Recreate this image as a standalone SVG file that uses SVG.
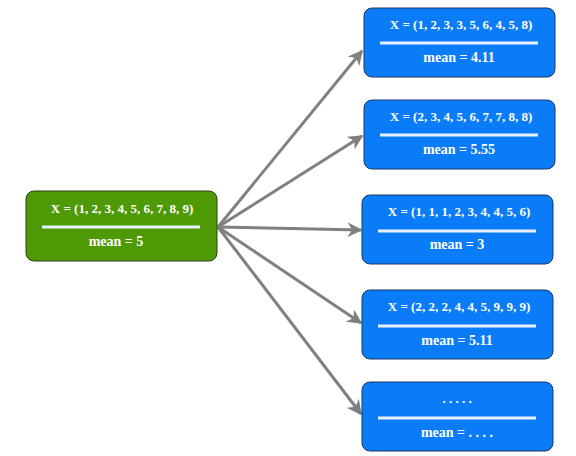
<svg xmlns="http://www.w3.org/2000/svg" width="576" height="456" viewBox="0 0 576 456">
<style>
.g{fill:#4e9a06;stroke:#2e3b1e;stroke-width:1}
.b{fill:#0b7cf7;stroke:#1c3766;stroke-width:1}
.t{font-family:"Liberation Serif",serif;font-weight:bold;font-size:13px;fill:#ffffff;text-anchor:middle}
.m{font-size:14px}
.d{stroke:#e8f0ff;stroke-width:3}
.e{stroke:#808080;stroke-width:3;fill:none}
</style>
<defs>
<marker id="ah" viewBox="0 0 10 10" refX="9" refY="5" markerWidth="5" markerHeight="5" orient="auto" markerUnits="strokeWidth">
<path d="M0,0 L10,5 L0,10 L3,5 Z" fill="#808080"/>
</marker>
</defs>
<g id="connectors">
<line class="e" x1="218" y1="227" x2="362" y2="51" marker-end="url(#ah)"/>
<line class="e" x1="218" y1="227" x2="362" y2="136" marker-end="url(#ah)"/>
<line class="e" x1="218" y1="227" x2="361" y2="230" marker-end="url(#ah)"/>
<line class="e" x1="218" y1="227" x2="361" y2="323" marker-end="url(#ah)"/>
<line class="e" x1="218" y1="227" x2="361" y2="414" marker-end="url(#ah)"/>
</g>
<g id="source">
<rect class="g" x="26" y="191" width="191" height="70" rx="8"/>
<text class="t" x="122" y="213">X = (1, 2, 3, 4, 5, 6, 7, 8, 9)</text>
<line class="d" x1="42" y1="227" x2="200" y2="227"/>
<text class="t m" x="116" y="246">mean = 5</text>
</g>
<g id="s1">
<rect class="b" x="364" y="8" width="191" height="69" rx="8"/>
<text class="t" x="461" y="29">X = (1, 2, 3, 3, 5, 6, 4, 5, 8)</text>
<line class="d" x1="380" y1="43" x2="538" y2="43"/>
<text class="t m" x="459" y="62">mean = 4.11</text>
</g>
<g id="s2">
<rect class="b" x="364" y="100" width="191" height="69" rx="8"/>
<text class="t" x="461" y="121">X = (2, 3, 4, 5, 6, 7, 7, 8, 8)</text>
<line class="d" x1="380" y1="135" x2="538" y2="135"/>
<text class="t m" x="459" y="154">mean = 5.55</text>
</g>
<g id="s3">
<rect class="b" x="362" y="195" width="191" height="69" rx="8"/>
<text class="t" x="459" y="216">X = (1, 1, 1, 2, 3, 4, 4, 5, 6)</text>
<line class="d" x1="378" y1="231" x2="536" y2="231"/>
<text class="t m" x="457" y="249">mean = 3</text>
</g>
<g id="s4">
<rect class="b" x="362" y="290" width="191" height="69" rx="8"/>
<text class="t" x="459" y="311">X = (2, 2, 2, 4, 4, 5, 9, 9, 9)</text>
<line class="d" x1="378" y1="326" x2="536" y2="326"/>
<text class="t m" x="457" y="345">mean = 5.11</text>
</g>
<g id="s5">
<rect class="b" x="362" y="382" width="191" height="69" rx="8"/>
<text class="t" x="457" y="403">. . . . .</text>
<line class="d" x1="378" y1="418" x2="536" y2="418"/>
<text class="t m" x="457" y="437">mean = . . . .</text>
</g>
</svg>
